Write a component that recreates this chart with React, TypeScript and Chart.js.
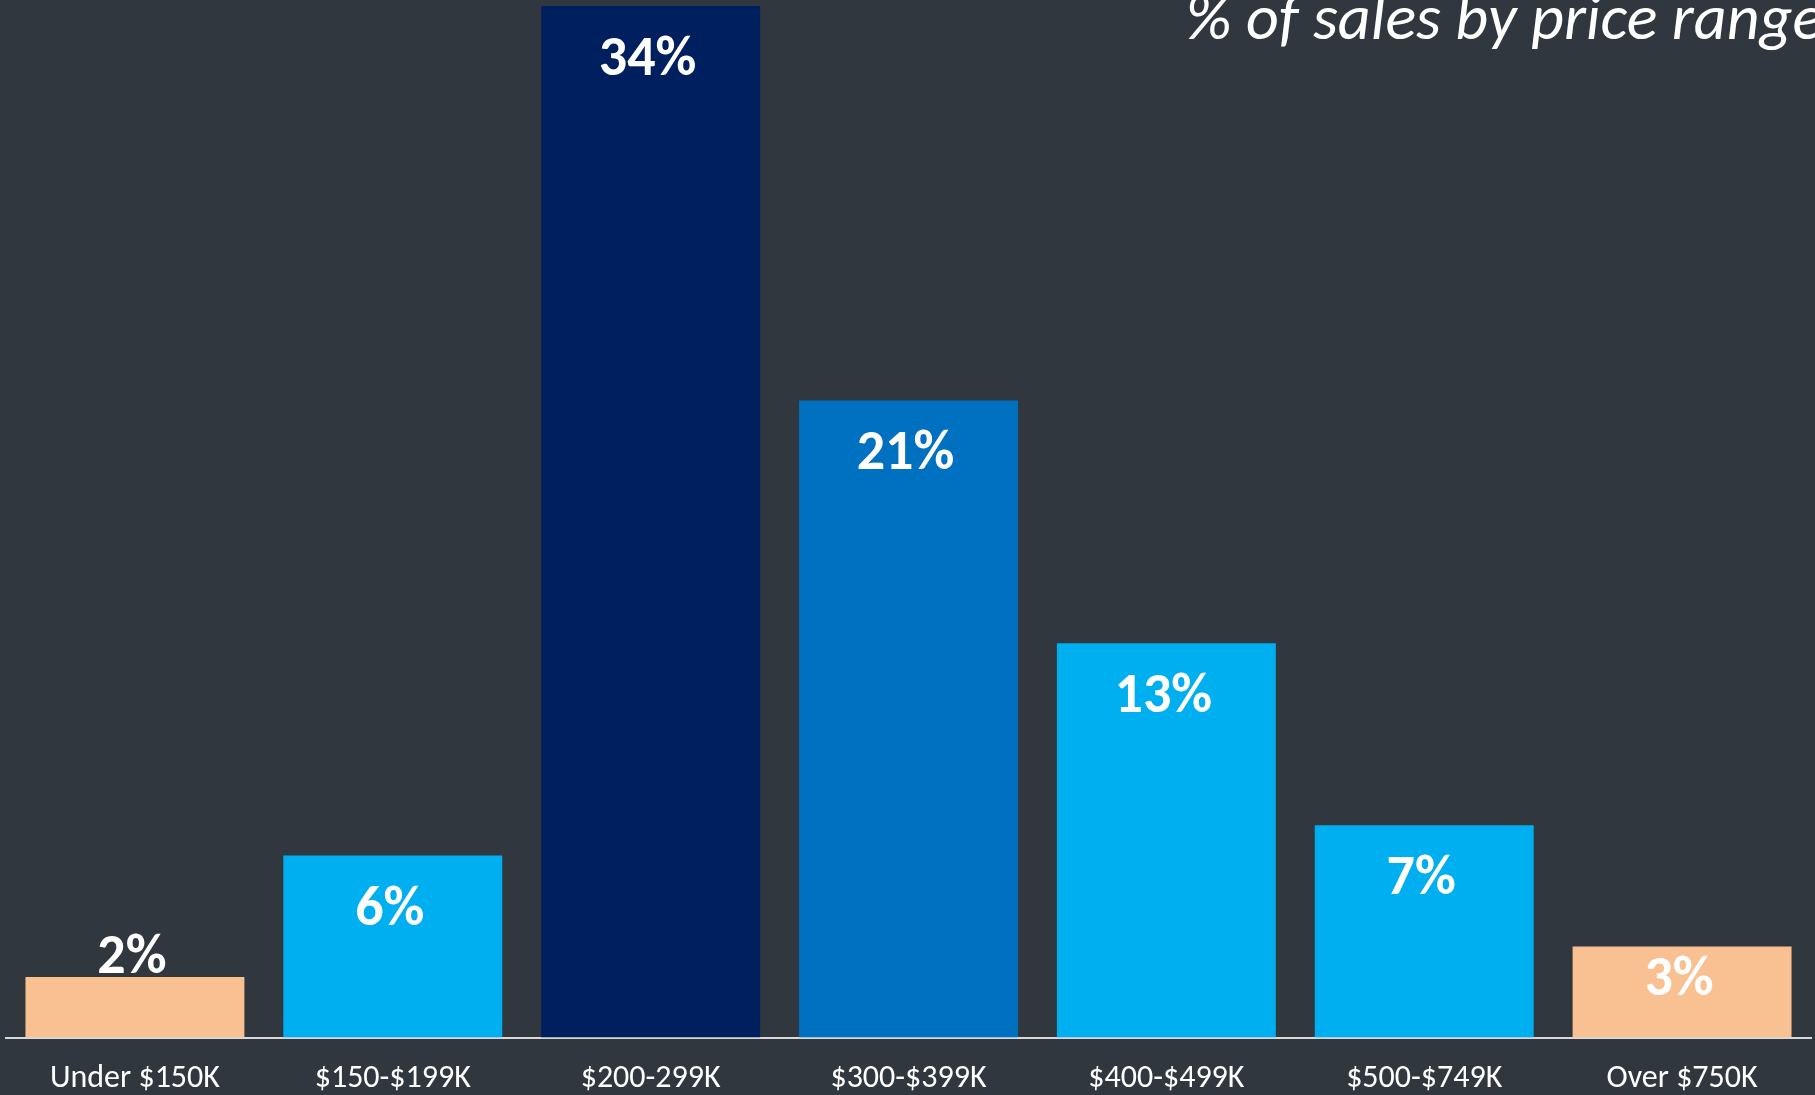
import React, { useEffect, useRef } from "react";
import { Chart, registerables } from "chart.js";

Chart.register(...registerables);

const categories = [
  "Under $150K",
  "$150-$199K",
  "$200-299K",
  "$300-$399K",
  "$400-$499K",
  "$500-$749K",
  "Over $750K",
];
const salesPct = [2, 6, 34, 21, 13, 7, 3];
const barColors = ["#F9C191", "#00AFEF", "#001F5F", "#0070C0", "#00AFEF", "#00AFEF", "#F9C191"];
const titleText = "% of sales by price range";

const BG = "#31373F";
const FONT = "Carlito, Lato, 'Open Sans', sans-serif";

const valueLabels = {
  id: "valueLabels",
  afterDatasetsDraw(chart: any) {
    const ctx = chart.ctx;
    const meta = chart.getDatasetMeta(0);
    ctx.save();
    ctx.fillStyle = "#FFFFFF";
    ctx.font = `bold 56px ${FONT}`;
    ctx.textAlign = "center";
    ctx.textBaseline = "middle";
    meta.data.forEach((bar: any, i: number) => {
      const h = bar.base - bar.y;
      let y;
      if (h > 80) y = bar.y + Math.min(55, h * 0.38);
      else y = bar.y - 18;
      ctx.fillText(salesPct[i] + "%", bar.x - 3, y);
    });
    ctx.restore();
  },
};

const titlePlugin = {
  id: "cornerTitle",
  afterDraw(chart: any) {
    const ctx = chart.ctx;
    ctx.save();
    ctx.fillStyle = "#FFFFFF";
    ctx.font = `italic 64px ${FONT}`;
    ctx.textAlign = "right";
    ctx.textBaseline = "alphabetic";
    ctx.fillText(titleText, chart.width + 8, 39);
    ctx.restore();
  },
};

export default function App() {
  const ref = useRef<HTMLCanvasElement | null>(null);

  useEffect(() => {
    document.body.style.margin = "0";
    document.body.style.background = BG;
    const canvas = ref.current!;
    const chart = new Chart(canvas, {
      type: "bar",
      data: {
        labels: categories,
        datasets: [
          {
            data: salesPct,
            backgroundColor: barColors,
            borderWidth: 0,
            barPercentage: 0.849,
            categoryPercentage: 1,
          },
        ],
      },
      options: {
        animation: false,
        responsive: false,
        maintainAspectRatio: false,
        layout: { padding: { left: 6, right: 4, top: 6, bottom: 0 } },
        plugins: {
          legend: { display: false },
          title: { display: false },
          tooltip: { enabled: false },
        },
        scales: {
          y: { display: false, min: 0, max: 34 },
          x: {
            grid: { display: false, drawTicks: false },
            border: { display: true, color: "#D9D9D9", width: 2 },
            ticks: {
              color: "#FFFFFF",
              font: { family: FONT, size: 32, lineHeight: 1.2 },
              padding: 22,
              maxRotation: 0,
              autoSkip: false,
            },
          },
        },
      },
      plugins: [valueLabels, titlePlugin],
    });
    return () => chart.destroy();
  }, []);

  return (
    <div style={{ width: 1815, height: 1095, background: BG, overflow: "hidden" }}>
      <canvas ref={ref} width={1815} height={1120} style={{ display: "block", width: 1815, height: 1120 }} />
    </div>
  );
}
